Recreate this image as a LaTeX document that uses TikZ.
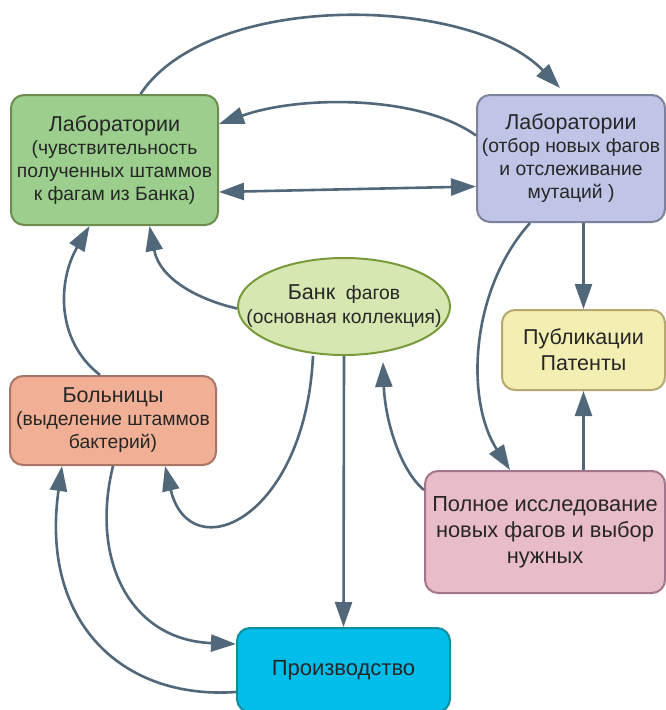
\documentclass[tikz,border=0pt]{standalone}
\usepackage{fontspec}
\setmainfont{Liberation Sans}
\usetikzlibrary{arrows.meta,shapes.geometric}
\definecolor{arr}{HTML}{51687A}
\definecolor{txt}{HTML}{262626}
\definecolor{gfill}{HTML}{9CCF8E}\definecolor{gdraw}{HTML}{6B8E4E}
\definecolor{bfill}{HTML}{C0C4E6}\definecolor{bdraw}{HTML}{7C819E}
\definecolor{efill}{HTML}{D7E7B2}\definecolor{edraw}{HTML}{789A3A}
\definecolor{yfill}{HTML}{F3EFB2}\definecolor{ydraw}{HTML}{B7A872}
\definecolor{hfill}{HTML}{F1B095}\definecolor{hdraw}{HTML}{A97564}
\definecolor{rfill}{HTML}{E8BDC7}\definecolor{rdraw}{HTML}{A4768E}
\definecolor{pfill}{HTML}{00BDE9}\definecolor{pdraw}{HTML}{0E8F9B}
\newcommand{\ttl}[1]{{\fontsize{21.5}{24}\selectfont #1}}
\tikzset{
  box/.style={draw, rounded corners=13pt, line width=2pt, align=center, text=txt,
    font=\fontsize{19.3}{23}\selectfont, inner sep=0pt},
  conn/.style={draw=arr, line width=2.6pt, -{Triangle[length=25pt,width=17pt]}},
  conn2/.style={draw=arr, line width=2.6pt, {Triangle[length=25pt,width=17pt]}-{Triangle[length=25pt,width=17pt]}}
}
\begin{document}
\begin{tikzpicture}[x=1pt,y=-1pt]
\useasboundingbox (0,0) rectangle (666,710);
\node[box, fill=gfill, draw=gdraw, minimum width=207pt, minimum height=130pt] (lab1) at (114.5,160)
  {\ttl{Лаборатории}\\(чувствительность\\полученных штаммов\\к фагам из Банка)};
\node[box, fill=bfill, draw=bdraw, minimum width=188pt, minimum height=127pt] (lab2) at (571,158.5)
  {\ttl{Лаборатории}\\(отбор новых фагов\\и отслеживание\\мутаций )};
\node[ellipse, draw=edraw, fill=efill, line width=2pt, minimum width=212pt, minimum height=97pt,
  inner sep=0pt,
  label={[align=center, text=txt, font=\fontsize{19.3}{24}\selectfont]center:{\ttl{Банк}\ \ фагов\\(основная коллекция)}}] (bank) at (344,306.5) {};
\node[box, fill=yfill, draw=ydraw, minimum width=163pt, minimum height=80pt, font=\fontsize{21.5}{26}\selectfont] (pub) at (583.5,350)
  {Публикации\\Патенты};
\node[box, fill=hfill, draw=hdraw, minimum width=206pt, minimum height=89pt] (hosp) at (113,420.5)
  {\ttl{Больницы}\\(выделение штаммов\\бактерий)};
\node[box, fill=rfill, draw=rdraw, minimum width=240pt, minimum height=122pt, font=\fontsize{21.8}{26}\selectfont] (res) at (545,532)
  {Полное исследование\\новых фагов и выбор\\нужных};
\node[box, fill=pfill, draw=pdraw, minimum width=213pt, minimum height=84pt, font=\fontsize{22}{26}\selectfont] (prod) at (343.5,670)
  {Производство};
% connectors
\draw[conn] ([xshift=26pt]lab1.north) .. controls (210,-10) and (470,-5) .. ([xshift=-11pt,yshift=6pt]lab2.north);
\draw[conn] ([yshift=23pt]lab2.west) .. controls (420,95) and (300,95) .. ([yshift=36pt]lab1.east);
\draw[conn2] ([yshift=-32pt]lab1.east) -- ([yshift=-28pt]lab2.west);
\draw[conn] ([yshift=-2pt]bank.west) .. controls (200,300) and (160,280) .. ([xshift=35pt]lab1.south);
\draw[conn] ([xshift=-13pt]hosp.north) .. controls (55,340) and (58,280) .. ([xshift=-25pt]lab1.south);
\draw[conn] ([xshift=-31pt]bank.south) .. controls (305,520) and (190,570) .. ([xshift=52pt]hosp.south);
\draw[conn] (bank.south) -- (prod.north);
\draw[conn] ([yshift=42pt]res.west) .. controls (400,470) and (385,420) .. ([xshift=39pt,yshift=-6pt]bank.south);
\draw[conn] ([xshift=-41pt]lab2.south) .. controls (470,290) and (465,400) .. ([xshift=-35pt]res.north);
\draw[conn] (lab2.south -| pub.north) -- (pub.north);
\draw[conn] (pub.south |- res.north) -- (pub.south);
\draw[conn] (hosp.south) .. controls (90,560) and (130,640) .. ([yshift=26pt]prod.west);
\draw[conn] ([yshift=-22pt]prod.west) .. controls (120,700) and (40,620) .. ([xshift=-51pt]hosp.south);
\end{tikzpicture}
\end{document}
